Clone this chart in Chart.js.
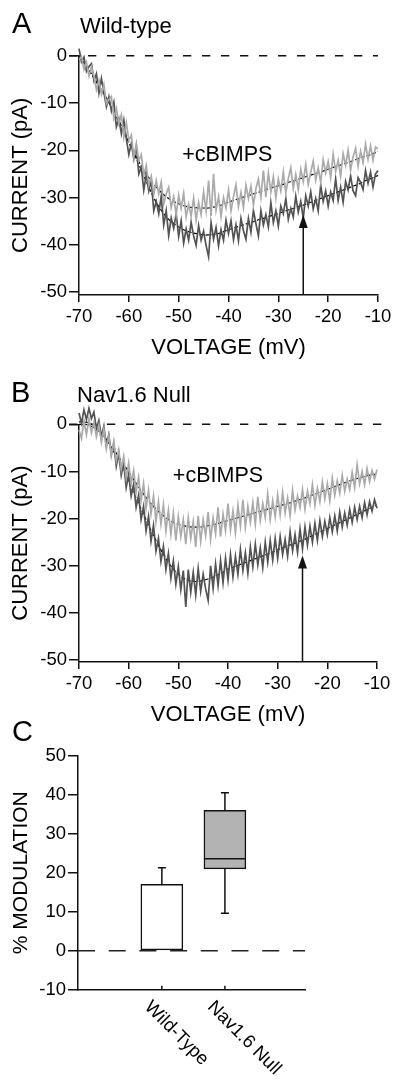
<!DOCTYPE html>
<html>
<head>
<meta charset="utf-8">
<title>cBIMPS modulation</title>
<script src="https://cdn.jsdelivr.net/npm/chart.js@4.4.0/dist/chart.umd.min.js"></script>
<style>
    body { margin: 0; background: #fff; }
    #wrap { position: relative; width: 396px; height: 1081px; overflow: hidden; }
    canvas { position: absolute; left: 0; }
    .lbl {
        position: absolute;
        line-height: 1;
        white-space: nowrap;
        color: #000;
        font-family: "Liberation Sans", Arial, Helvetica, sans-serif;
    }
</style>
</head>
<body>
<div id="wrap">
    <canvas id="chartA" width="396" height="365" style="top:0px"></canvas>
    <canvas id="chartB" width="396" height="360" style="top:370px"></canvas>
    <canvas id="chartC" width="396" height="351" style="top:730px"></canvas>
    <div class="lbl" style="left:12px;top:8.8px;font-size:29px">A</div>
    <div class="lbl" style="left:80px;top:14.7px;font-size:22px">Wild-type</div>
    <div class="lbl" style="left:11px;top:377.8px;font-size:29px">B</div>
    <div class="lbl" style="left:77px;top:383.7px;font-size:22px">Nav1.6 Null</div>
    <div class="lbl" style="left:12px;top:716.5px;font-size:29px">C</div>
</div>
<script>
// voltage steps of the recorded ramps (mV)
const voltage = [-70,-69.5,-69,-68.5,-68,-67.5,-67,-66.5,-66,-65.5,-65,-64.5,-64,-63.5,-63,-62.5,-62,-61.5,-61,-60.5,
    -60,-59.5,-59,-58.5,-58,-57.5,-57,-56.5,-56,-55.5,-55,-54.5,-54,-53.5,-53,-52.5,-52,-51.5,-51,-50.5,
    -50,-49.5,-49,-48.5,-48,-47.5,-47,-46.5,-46,-45.5,-45,-44.5,-44,-43.5,-43,-42.5,-42,-41.5,-41,-40.5,
    -40,-39.5,-39,-38.5,-38,-37.5,-37,-36.5,-36,-35.5,-35,-34.5,-34,-33.5,-33,-32.5,-32,-31.5,-31,-30.5,
    -30,-29.5,-29,-28.5,-28,-27.5,-27,-26.5,-26,-25.5,-25,-24.5,-24,-23.5,-23,-22.5,-22,-21.5,-21,-20.5,
    -20,-19.5,-19,-18.5,-18,-17.5,-17,-16.5,-16,-15.5,-15,-14.5,-14,-13.5,-13,-12.5,-12,-11.5,-11,-10.5,-10];
const fitVoltage = [-70,-69,-68,-67,-66,-65,-64,-63,-62,-61,-60,-59,-58,-57,-56,-55,-54,-53,-52,-51,
    -50,-49,-48,-47,-46,-45,-44,-43,-42,-41,-40,-39,-38,-37,-36,-35,-34,-33,-32,-31,
    -30,-29,-28,-27,-26,-25,-24,-23,-22,-21,-20,-19,-18,-17,-16,-15,-14,-13,-12,-11,-10];

// panel A, wild-type (pA)
const wtControl = [1.5,-1.3,-0.3,-3.3,-2.3,-1.7,-5.3,-3.8,-7.9,-4.8,
    -7.8,-10.8,-8.7,-11.7,-9.8,-15.0,-13.3,-16.5,-13.6,-17.6,
    -20.9,-18.5,-21.8,-19.0,-25.0,-23.6,-28.4,-25.1,-28.6,-26.3,
    -32.8,-30.8,-33.4,-29.7,-35.8,-32.8,-38.0,-34.3,-36.5,-33.4,
    -38.2,-34.9,-39.6,-36.6,-39.0,-35.2,-38.1,-40.1,-35.9,-39.0,
    -37.1,-40.1,-42.5,-35.3,-38.8,-36.3,-40.2,-36.8,-39.0,-34.8,
    -37.6,-34.9,-38.9,-35.8,-39.1,-34.4,-37.0,-38.8,-34.4,-37.3,
    -32.7,-35.5,-38.1,-32.8,-35.8,-33.6,-36.2,-31.1,-35.3,-32.8,
    -36.0,-31.8,-33.4,-30.2,-34.6,-32.3,-34.1,-29.7,-33.1,-30.8,
    -34.4,-29.6,-31.8,-28.8,-32.4,-30.2,-32.8,-27.4,-30.8,-28.6,
    -31.8,-28.8,-30.6,-26.0,-30.6,-27.8,-31.0,-26.6,-28.4,-25.4,
    -28.6,-29.6,-25.8,-26.8,-28.3,-24.3,-27.0,-24.6,-27.8,-25.0,-24.3];
const wtCbimps = [-0.8,-0.2,-2.9,-1.4,-4.3,-2.4,-4.3,-7.2,-5.2,-8.1,
    -6.1,-10.2,-9.3,-8.6,-13.2,-11.2,-14.4,-12.5,-17.2,-14.2,
    -17.9,-16.8,-21.4,-18.6,-22.2,-20.9,-25.4,-23.2,-27.4,-25.5,
    -29.4,-26.4,-29.2,-26.7,-31.4,-29.2,-27.8,-32.1,-29.8,-33.7,
    -29.5,-32.3,-29.1,-34.1,-31.4,-33.9,-30.1,-34.8,-31.0,-33.6,
    -28.8,-32.8,-26.4,-33.9,-25.0,-32.7,-29.8,-34.0,-30.0,-32.2,
    -28.4,-32.8,-29.8,-27.3,-31.9,-28.9,-32.1,-27.4,-30.2,-27.6,
    -31.6,-28.1,-26.1,-29.9,-24.3,-29.9,-24.8,-28.8,-25.6,-30.1,
    -26.1,-28.6,-24.6,-29.0,-26.0,-23.7,-28.1,-25.1,-28.3,-24.0,
    -26.6,-23.0,-27.2,-24.7,-22.3,-26.3,-23.7,-26.8,-22.0,-24.8,
    -22.4,-25.8,-20.8,-24.5,-22.1,-25.5,-20.7,-23.2,-20.0,-24.2,
    -21.4,-19.6,-23.4,-20.2,-22.6,-18.7,-21.9,-19.1,-22.1,-19.3,-19.7];
const wtControlFit = [0,-1.5,-3.1,-4.7,-6.4,-8.1,-9.9,-11.8,-13.8,-16.0,
    -18.3,-20.6,-23.0,-25.4,-27.8,-30.0,-31.9,-33.4,-34.6,-35.5,
    -36.2,-36.8,-37.2,-37.5,-37.7,-37.9,-37.9,-37.8,-37.6,-37.2,
    -36.8,-36.5,-36.1,-35.8,-35.4,-35.1,-34.7,-34.4,-34.0,-33.7,
    -33.4,-33.0,-32.6,-32.3,-31.9,-31.6,-31.2,-30.8,-30.4,-30.0,
    -29.6,-29.2,-28.8,-28.4,-28.0,-27.6,-27.2,-26.7,-26.2,-25.8,-25.3];
const wtCbimpsFit = [0,-1.5,-3.1,-4.7,-6.4,-8.1,-9.9,-11.8,-13.8,-16.0,
    -18.3,-20.4,-22.4,-24.2,-25.8,-27.2,-28.4,-29.4,-30.2,-30.8,
    -31.3,-31.7,-32.0,-32.1,-32.2,-32.2,-32.2,-32.0,-31.8,-31.4,
    -31.0,-30.6,-30.3,-29.9,-29.6,-29.2,-28.9,-28.5,-28.2,-27.8,
    -27.5,-27.2,-26.8,-26.5,-26.1,-25.8,-25.4,-25.1,-24.7,-24.4,
    -24.0,-23.6,-23.3,-22.9,-22.6,-22.2,-21.8,-21.4,-21.1,-20.7,-20.3];

// panel B, Nav1.6 null (pA)
const nullControl = [2.4,0.2,3.1,1.0,3.4,1.2,2.6,-0.9,0.8,-2.6,
    -0.4,-4.6,-2.2,-6.4,-4.0,-8.9,-6.1,-10.8,-8.2,-13.4,
    -10.6,-15.2,-12.7,-17.6,-15.0,-20.2,-17.4,-22.6,-19.5,-24.8,
    -21.4,-26.9,-24.2,-29.1,-25.9,-30.8,-27.4,-32.6,-29.0,-33.9,
    -30.2,-35.1,-31.0,-38.7,-30.8,-35.6,-31.4,-36.2,-30.6,-35.4,
    -31.8,-34.9,-37.3,-30.0,-34.8,-29.6,-34.2,-28.9,-33.6,-28.4,
    -33.0,-27.6,-32.4,-28.0,-31.8,-26.5,-31.0,-27.2,-31.6,-26.0,
    -30.2,-25.4,-29.8,-26.2,-30.4,-25.0,-29.2,-24.6,-28.8,-24.2,
    -28.4,-23.8,-27.6,-24.4,-28.0,-22.8,-26.8,-23.4,-27.2,-22.2,
    -26.4,-21.8,-25.6,-21.6,-25.0,-21.0,-24.6,-20.4,-23.8,-20.6,
    -23.4,-19.8,-22.8,-19.4,-22.6,-18.6,-21.8,-18.8,-21.4,-18.0,
    -20.8,-17.6,-20.2,-17.4,-19.8,-16.6,-19.2,-16.4,-18.4,-16.0,-17.8];
const nullCbimps = [-1.2,-3.0,0.8,-2.2,1.2,-1.8,0.4,-2.6,-0.2,-3.8,
    -1.0,-5.2,-2.4,-6.6,-3.6,-7.8,-5.4,-9.6,-6.8,-11.4,
    -8.2,-12.6,-9.8,-14.4,-11.2,-16.2,-12.6,-17.8,-14.0,-19.0,
    -15.2,-20.6,-16.4,-21.2,-17.0,-22.6,-18.2,-23.4,-18.8,-24.6,
    -19.6,-23.8,-20.2,-25.4,-19.8,-24.2,-20.6,-26.0,-19.4,-24.8,
    -20.2,-23.6,-18.6,-24.4,-19.8,-23.2,-17.6,-23.8,-19.0,-22.6,
    -16.8,-22.4,-18.4,-23.0,-17.2,-21.6,-16.0,-21.8,-17.4,-20.8,
    -16.6,-21.2,-15.4,-20.4,-16.8,-19.8,-14.8,-20.2,-16.2,-19.6,
    -15.0,-19.2,-14.4,-18.8,-15.6,-19.4,-14.0,-18.2,-15.2,-17.6,
    -13.8,-18.0,-14.2,-16.8,-12.8,-17.2,-13.6,-16.4,-12.2,-15.8,
    -12.6,-16.2,-11.4,-15.0,-12.0,-14.6,-10.8,-14.2,-11.6,-13.8,
    -10.2,-13.4,-8.6,-12.6,-10.0,-12.8,-9.4,-12.2,-9.8,-11.6,-9.6];
const nullControlFit = [0.5,0.5,0.3,-0.3,-1.2,-2.5,-4.0,-5.8,-7.8,-10.0,
    -12.2,-14.5,-16.8,-19.1,-21.4,-23.6,-25.7,-27.6,-29.3,-30.7,
    -31.8,-32.6,-33.1,-33.3,-33.3,-33.1,-32.8,-32.4,-31.9,-31.4,
    -30.7,-30.3,-29.9,-29.5,-29.1,-28.7,-28.3,-27.9,-27.5,-27.1,
    -26.6,-26.2,-25.8,-25.4,-25.0,-24.6,-24.1,-23.6,-23.1,-22.6,
    -22.1,-21.6,-21.1,-20.6,-20.1,-19.6,-19.1,-18.6,-18.1,-17.6,-17.1];
const nullCbimpsFit = [0,0,-0.2,-0.7,-1.5,-2.6,-3.9,-5.3,-6.9,-8.5,
    -10.1,-11.7,-13.3,-14.8,-16.2,-17.4,-18.5,-19.4,-20.2,-20.8,
    -21.2,-21.5,-21.7,-21.8,-21.8,-21.7,-21.5,-21.3,-21.0,-20.7,
    -20.4,-20.1,-19.8,-19.5,-19.2,-18.9,-18.6,-18.3,-18.0,-17.7,
    -17.4,-17.1,-16.8,-16.5,-16.1,-15.8,-15.4,-15.0,-14.6,-14.2,
    -13.8,-13.4,-13.0,-12.6,-12.2,-11.8,-11.5,-11.2,-10.9,-10.7,-10.5];

const voltageTicks = [-70, -60, -50, -40, -30, -20, -10];
const currentTicks = [0, -10, -20, -30, -40, -50];
const arrowVoltage = -25;
const arrowTipA = -33.7;
const arrowTipB = -27.8;

// panel C, % modulation
const groups = ['Wild-Type', 'Nav1.6 Null'];
const boxLow = [0, 21];
const boxHigh = [17, 36];
const median = [null, 23.6];
const whiskerLow = [null, 9.6];
const whiskerHigh = [21.3, 40.5];
const modTicks = [50, 40, 30, 20, 10, 0, -10];

const FONT = '"Liberation Sans", Arial, Helvetica, sans-serif';
const INK = '#000';
Chart.defaults.font.family = FONT;
Chart.defaults.color = INK;

function pts(xs, ys) { return xs.map((x, i) => ({x: x, y: ys[i]})); }

// dashed zero line, arrow and "+cBIMPS" text for the IV panels
const ivDecor = {
    id: 'ivDecor',
    beforeDatasetsDraw(chart, args, o) {
        if (!o.dash) return;
        const {ctx, chartArea, scales: {y}} = chart;
        const py = y.getPixelForValue(0);
        ctx.save();
        ctx.strokeStyle = '#111';
        ctx.lineWidth = 1.5;
        ctx.setLineDash(o.dash);
        ctx.beginPath();
        ctx.moveTo(chartArea.left - o.lead, py);
        ctx.lineTo(chartArea.right + o.tail, py);
        ctx.stroke();
        ctx.restore();
    },
    afterDatasetsDraw(chart, args, o) {
        if (o.arrowTip === undefined) return;
        const {ctx, chartArea, scales: {x, y}} = chart;
        const px = x.getPixelForValue(o.arrowV);
        const tip = y.getPixelForValue(o.arrowTip);
        ctx.save();
        ctx.strokeStyle = '#111';
        ctx.fillStyle = '#111';
        ctx.lineWidth = 1.5;
        ctx.beginPath();
        ctx.moveTo(px, chartArea.bottom);
        ctx.lineTo(px, tip + 10);
        ctx.stroke();
        ctx.beginPath();
        ctx.moveTo(px, tip);
        ctx.lineTo(px - 4.5, tip + 13);
        ctx.lineTo(px + 4.5, tip + 13);
        ctx.closePath();
        ctx.fill();
        ctx.fillStyle = INK;
        ctx.font = '21.5px ' + FONT;
        ctx.textAlign = 'left';
        ctx.textBaseline = 'middle';
        ctx.fillText(o.text, x.getPixelForValue(o.textV), y.getPixelForValue(o.textI));
        ctx.restore();
    }
};

function ivChart(id, control, cbimps, controlFit, cbimpsFit, yMin, padTop, padRight, xHeight, titlePad, decor) {
    const tickFont = {size: 18.5};
    return new Chart(document.getElementById(id), {
        type: 'scatter',
        data: {
            datasets: [
                {data: pts(voltage, cbimps), borderColor: '#aaaaaa', borderWidth: 1.7},
                {data: pts(voltage, control), borderColor: '#535353', borderWidth: 1.7},
                {data: pts(fitVoltage, cbimpsFit), borderColor: '#000', borderWidth: 1.2, borderDash: [4, 2], tension: 0.4},
                {data: pts(fitVoltage, controlFit), borderColor: '#000', borderWidth: 1.2, borderDash: [4, 2], tension: 0.4}
            ]
        },
        options: {
            responsive: false,
            animation: false,
            devicePixelRatio: 1,
            showLine: true,
            clip: false,
            elements: {point: {radius: 0}, line: {tension: 0}},
            layout: {padding: {top: padTop, right: padRight, left: 0, bottom: 0}},
            plugins: {legend: {display: false}, tooltip: {enabled: false}, ivDecor: decor},
            scales: {
                x: {
                    type: 'linear', min: -70, max: -10,
                    afterBuildTicks: s => { s.ticks = voltageTicks.map(v => ({value: v})); },
                    afterFit: s => { s.height = xHeight; },
                    ticks: {font: tickFont, color: INK, padding: 4, maxRotation: 0, autoSkip: false},
                    grid: {display: true, drawOnChartArea: false, drawTicks: true, tickLength: 7, color: '#111', lineWidth: 1.5},
                    border: {display: true, color: '#111', width: 1.5},
                    title: {display: true, text: 'VOLTAGE (mV)', color: INK, font: {size: 22}, padding: {top: 0, bottom: titlePad}}
                },
                y: {
                    type: 'linear', min: yMin, max: 0,
                    afterBuildTicks: s => { s.ticks = currentTicks.map(v => ({value: v})); },
                    afterFit: s => { s.width = 79; },
                    ticks: {font: tickFont, color: INK, padding: 2, autoSkip: false},
                    grid: {display: true, drawOnChartArea: false, drawTicks: true, tickLength: 10, color: '#111', lineWidth: 1.5},
                    border: {display: true, color: '#111', width: 1.5},
                    title: {display: true, text: 'CURRENT (pA)', color: INK, font: {size: 22}, padding: {top: 8, bottom: 0}}
                }
            }
        },
        plugins: [ivDecor]
    });
}

ivChart('chartA', wtControl, wtCbimps, wtControlFit, wtCbimpsFit, -50.6, 55.7, 18, 70, 3.8,
    {dash: [8.3, 10.7], lead: 10, tail: 0, arrowV: arrowVoltage, arrowTip: arrowTipA, text: '+cBIMPS', textV: -49.3, textI: -21.0});
ivChart('chartB', nullControl, nullCbimps, nullControlFit, nullCbimpsFit, -50.4, 54.3, 19, 68, 1.8,
    {dash: [8.3, 10.7], lead: 10, tail: 15, arrowV: arrowVoltage, arrowTip: arrowTipB, text: '+cBIMPS', textV: -51.1, textI: -11.0});

// box-plot extras for panel C: medians, whiskers, category ticks and slanted names
const boxDecor = {
    id: 'boxDecor',
    beforeDatasetsDraw(chart) {
        const {ctx, chartArea, scales: {y}} = chart;
        const py = y.getPixelForValue(0);
        ctx.save();
        ctx.strokeStyle = '#222';
        ctx.lineWidth = 1.5;
        ctx.setLineDash([17, 13.7]);
        ctx.beginPath();
        ctx.moveTo(chartArea.left, py);
        ctx.lineTo(chartArea.right, py);
        ctx.stroke();
        ctx.restore();
    },
    afterDatasetsDraw(chart) {
        const {ctx, chartArea, scales: {x, y}} = chart;
        const meta = chart.getDatasetMeta(0);
        ctx.save();
        ctx.strokeStyle = '#111';
        ctx.lineWidth = 1.5;
        meta.data.forEach((bar, i) => {
            const cx = bar.x, half = bar.width / 2, cap = 4;
            ctx.beginPath();
            if (median[i] !== null) {
                const m = y.getPixelForValue(median[i]);
                ctx.moveTo(cx - half, m); ctx.lineTo(cx + half, m);
            }
            if (whiskerHigh[i] !== null) {
                const a = y.getPixelForValue(boxHigh[i]), b = y.getPixelForValue(whiskerHigh[i]);
                ctx.moveTo(cx, a); ctx.lineTo(cx, b);
                ctx.moveTo(cx - cap, b); ctx.lineTo(cx + cap, b);
            }
            if (whiskerLow[i] !== null) {
                const a = y.getPixelForValue(boxLow[i]), b = y.getPixelForValue(whiskerLow[i]);
                ctx.moveTo(cx, a); ctx.lineTo(cx, b);
                ctx.moveTo(cx - cap, b); ctx.lineTo(cx + cap, b);
            }
            ctx.stroke();
        });
        // category ticks point up into the plot, names run down to the right
        ctx.fillStyle = INK;
        ctx.font = '18.5px ' + FONT;
        ctx.textAlign = 'left';
        ctx.textBaseline = 'top';
        groups.forEach((g, i) => {
            const px = x.getPixelForValue(i + 1);
            ctx.beginPath();
            ctx.moveTo(px, chartArea.bottom);
            ctx.lineTo(px, chartArea.bottom - 4);
            ctx.stroke();
            ctx.save();
            ctx.translate(px - 8, chartArea.bottom + 8);
            ctx.rotate(Math.PI / 4);
            ctx.fillText(g, 0, 0);
            ctx.restore();
        });
        ctx.restore();
    }
};

new Chart(document.getElementById('chartC'), {
    type: 'bar',
    data: {
        datasets: [{
            data: groups.map((g, i) => ({x: i + 1, y: [boxLow[i], boxHigh[i]]})),
            backgroundColor: ['#ffffff', '#b3b3b3'],
            borderColor: '#111',
            borderWidth: 1.5,
            borderSkipped: false,
            barThickness: 42
        }]
    },
    options: {
        responsive: false,
        animation: false,
        devicePixelRatio: 1,
        layout: {padding: {top: 25.7, right: 91, left: 0, bottom: 0}},
        plugins: {legend: {display: false}, tooltip: {enabled: false}},
        scales: {
            x: {
                type: 'linear', min: 0.12, max: 2.82,
                afterFit: s => { s.height = 91.3; },
                ticks: {display: false},
                grid: {display: false},
                border: {display: true, color: '#111', width: 1.5}
            },
            y: {
                type: 'linear', min: -10, max: 50,
                afterBuildTicks: s => { s.ticks = modTicks.map(v => ({value: v})); },
                afterFit: s => { s.width = 78; },
                ticks: {font: {size: 18.5}, color: INK, padding: 2, autoSkip: false},
                grid: {display: true, drawOnChartArea: false, drawTicks: true, tickLength: 10, color: '#111', lineWidth: 1.5},
                border: {display: true, color: '#111', width: 1.5},
                title: {display: true, text: '% MODULATION', color: INK, font: {size: 21}, padding: {top: 9, bottom: 0}}
            }
        }
    },
    plugins: [boxDecor]
});
</script>
</body>
</html>
